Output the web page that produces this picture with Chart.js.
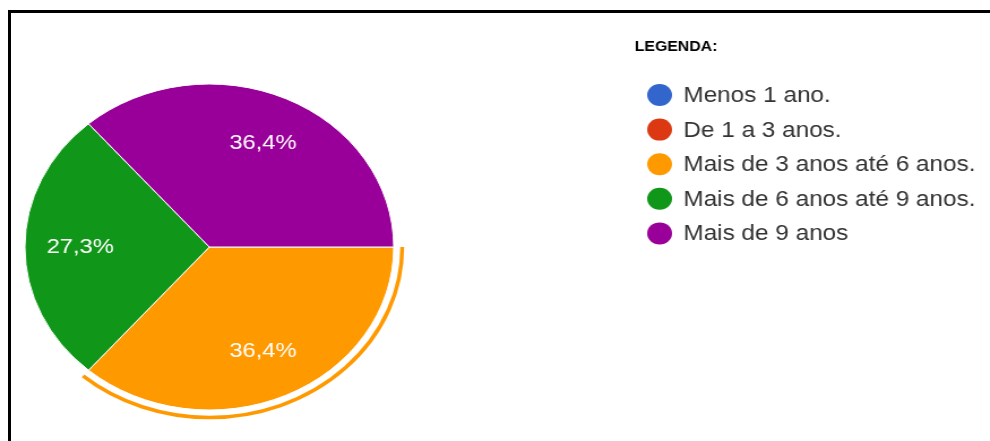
<!DOCTYPE html>
<html>
<head>
<meta charset="utf-8">
<script src="https://cdn.jsdelivr.net/npm/chart.js@4"></script>
<style>
  body { margin: 0; background: #fff; overflow: hidden; }
  #moldura {
    position: absolute; left: 8px; top: 10px; width: 1200px; height: 600px;
    border-top: 3px solid #000; border-left: 3px solid #000;
    z-index: 2; pointer-events: none;
  }
  /* a imagem original esta esticada na horizontal */
  #caixa {
    position: absolute; left: 0; top: 0; width: 875px; height: 441px;
    transform: scaleX(1.1314); transform-origin: 0 0;
  }
</style>
</head>
<body>
<div id="moldura"></div>
<div id="caixa"><canvas id="graficoPizza" width="875" height="441"></canvas></div>
<script>
const categorias = [
  'Menos 1 ano.',
  'De 1 a 3 anos.',
  'Mais de 3 anos até 6 anos.',
  'Mais de 6 anos até 9 anos.',
  'Mais de 9 anos'
];
const respostas = [0, 0, 4, 3, 4];
const cores = ['#3366cc', '#dc3912', '#ff9900', '#109618', '#990099'];
const tituloLegenda = 'LEGENDA:';
const fatiaDestacada = 2;

const fonte = '"Liberation Sans", Arial, sans-serif';

function formatarPercentual(valor, total) {
  return (valor / total * 100).toFixed(1).replace('.', ',') + '%';
}

// porcentagens dentro das fatias
const rotulosFatias = {
  id: 'rotulosFatias',
  afterDatasetsDraw(chart) {
    const ctx = chart.ctx;
    const meta = chart.getDatasetMeta(0);
    const total = respostas.reduce((a, b) => a + b, 0);
    ctx.save();
    ctx.font = '21px ' + fonte;
    ctx.fillStyle = '#fff';
    ctx.textAlign = 'center';
    ctx.textBaseline = 'middle';
    meta.data.forEach((arco, i) => {
      if (!respostas[i]) return;
      const p = arco.getProps(['x', 'y', 'startAngle', 'endAngle', 'outerRadius'], true);
      const meio = (p.startAngle + p.endAngle) / 2;
      const r = p.outerRadius * 0.7;
      ctx.fillText(formatarPercentual(respostas[i], total), p.x + Math.cos(meio) * r, p.y + Math.sin(meio) * r);
    });
    ctx.restore();
  }
};

// anel em volta da fatia selecionada
const anelDestaque = {
  id: 'anelDestaque',
  afterDatasetsDraw(chart) {
    const ctx = chart.ctx;
    const arco = chart.getDatasetMeta(0).data[fatiaDestacada];
    const p = arco.getProps(['x', 'y', 'startAngle', 'endAngle', 'outerRadius'], true);
    ctx.save();
    ctx.beginPath();
    ctx.arc(p.x, p.y, p.outerRadius + 7.5, p.startAngle, p.endAngle);
    ctx.lineWidth = 3.5;
    ctx.strokeStyle = cores[fatiaDestacada];
    ctx.stroke();
    ctx.restore();
  }
};

// legenda desenhada a parte para ficar na mesma posicao da imagem
const legendaLateral = {
  id: 'legendaLateral',
  afterDraw(chart) {
    const ctx = chart.ctx;
    ctx.save();
    ctx.textBaseline = 'middle';
    ctx.textAlign = 'left';
    ctx.fillStyle = '#000';
    ctx.font = 'bold 14px ' + fonte;
    ctx.fillText(tituloLegenda, 561, 47);

    ctx.font = '21.5px ' + fonte;
    categorias.forEach((nome, i) => {
      const y = 95 + i * 34.6;
      ctx.beginPath();
      ctx.arc(583, y, 11, 0, Math.PI * 2);
      ctx.fillStyle = cores[i];
      ctx.fill();
      ctx.fillStyle = '#333';
      ctx.fillText(nome, 604, y + 1);
    });
    ctx.restore();
  }
};

const ctx = document.getElementById('graficoPizza').getContext('2d');

const graficoPizza = new Chart(ctx, {
  type: 'pie',
  data: {
    labels: categorias,
    datasets: [{
      data: respostas,
      backgroundColor: cores,
      borderColor: '#fff',
      borderWidth: 1,
      hoverOffset: 0
    }]
  },
  options: {
    responsive: false,
    animation: false,
    rotation: 90,
    radius: 163,
    events: [],
    layout: {
      padding: { left: 21, right: 526, top: 83, bottom: 30 }
    },
    plugins: {
      legend: { display: false },
      tooltip: { enabled: false }
    }
  },
  plugins: [anelDestaque, rotulosFatias, legendaLateral]
});
</script>
</body>
</html>
